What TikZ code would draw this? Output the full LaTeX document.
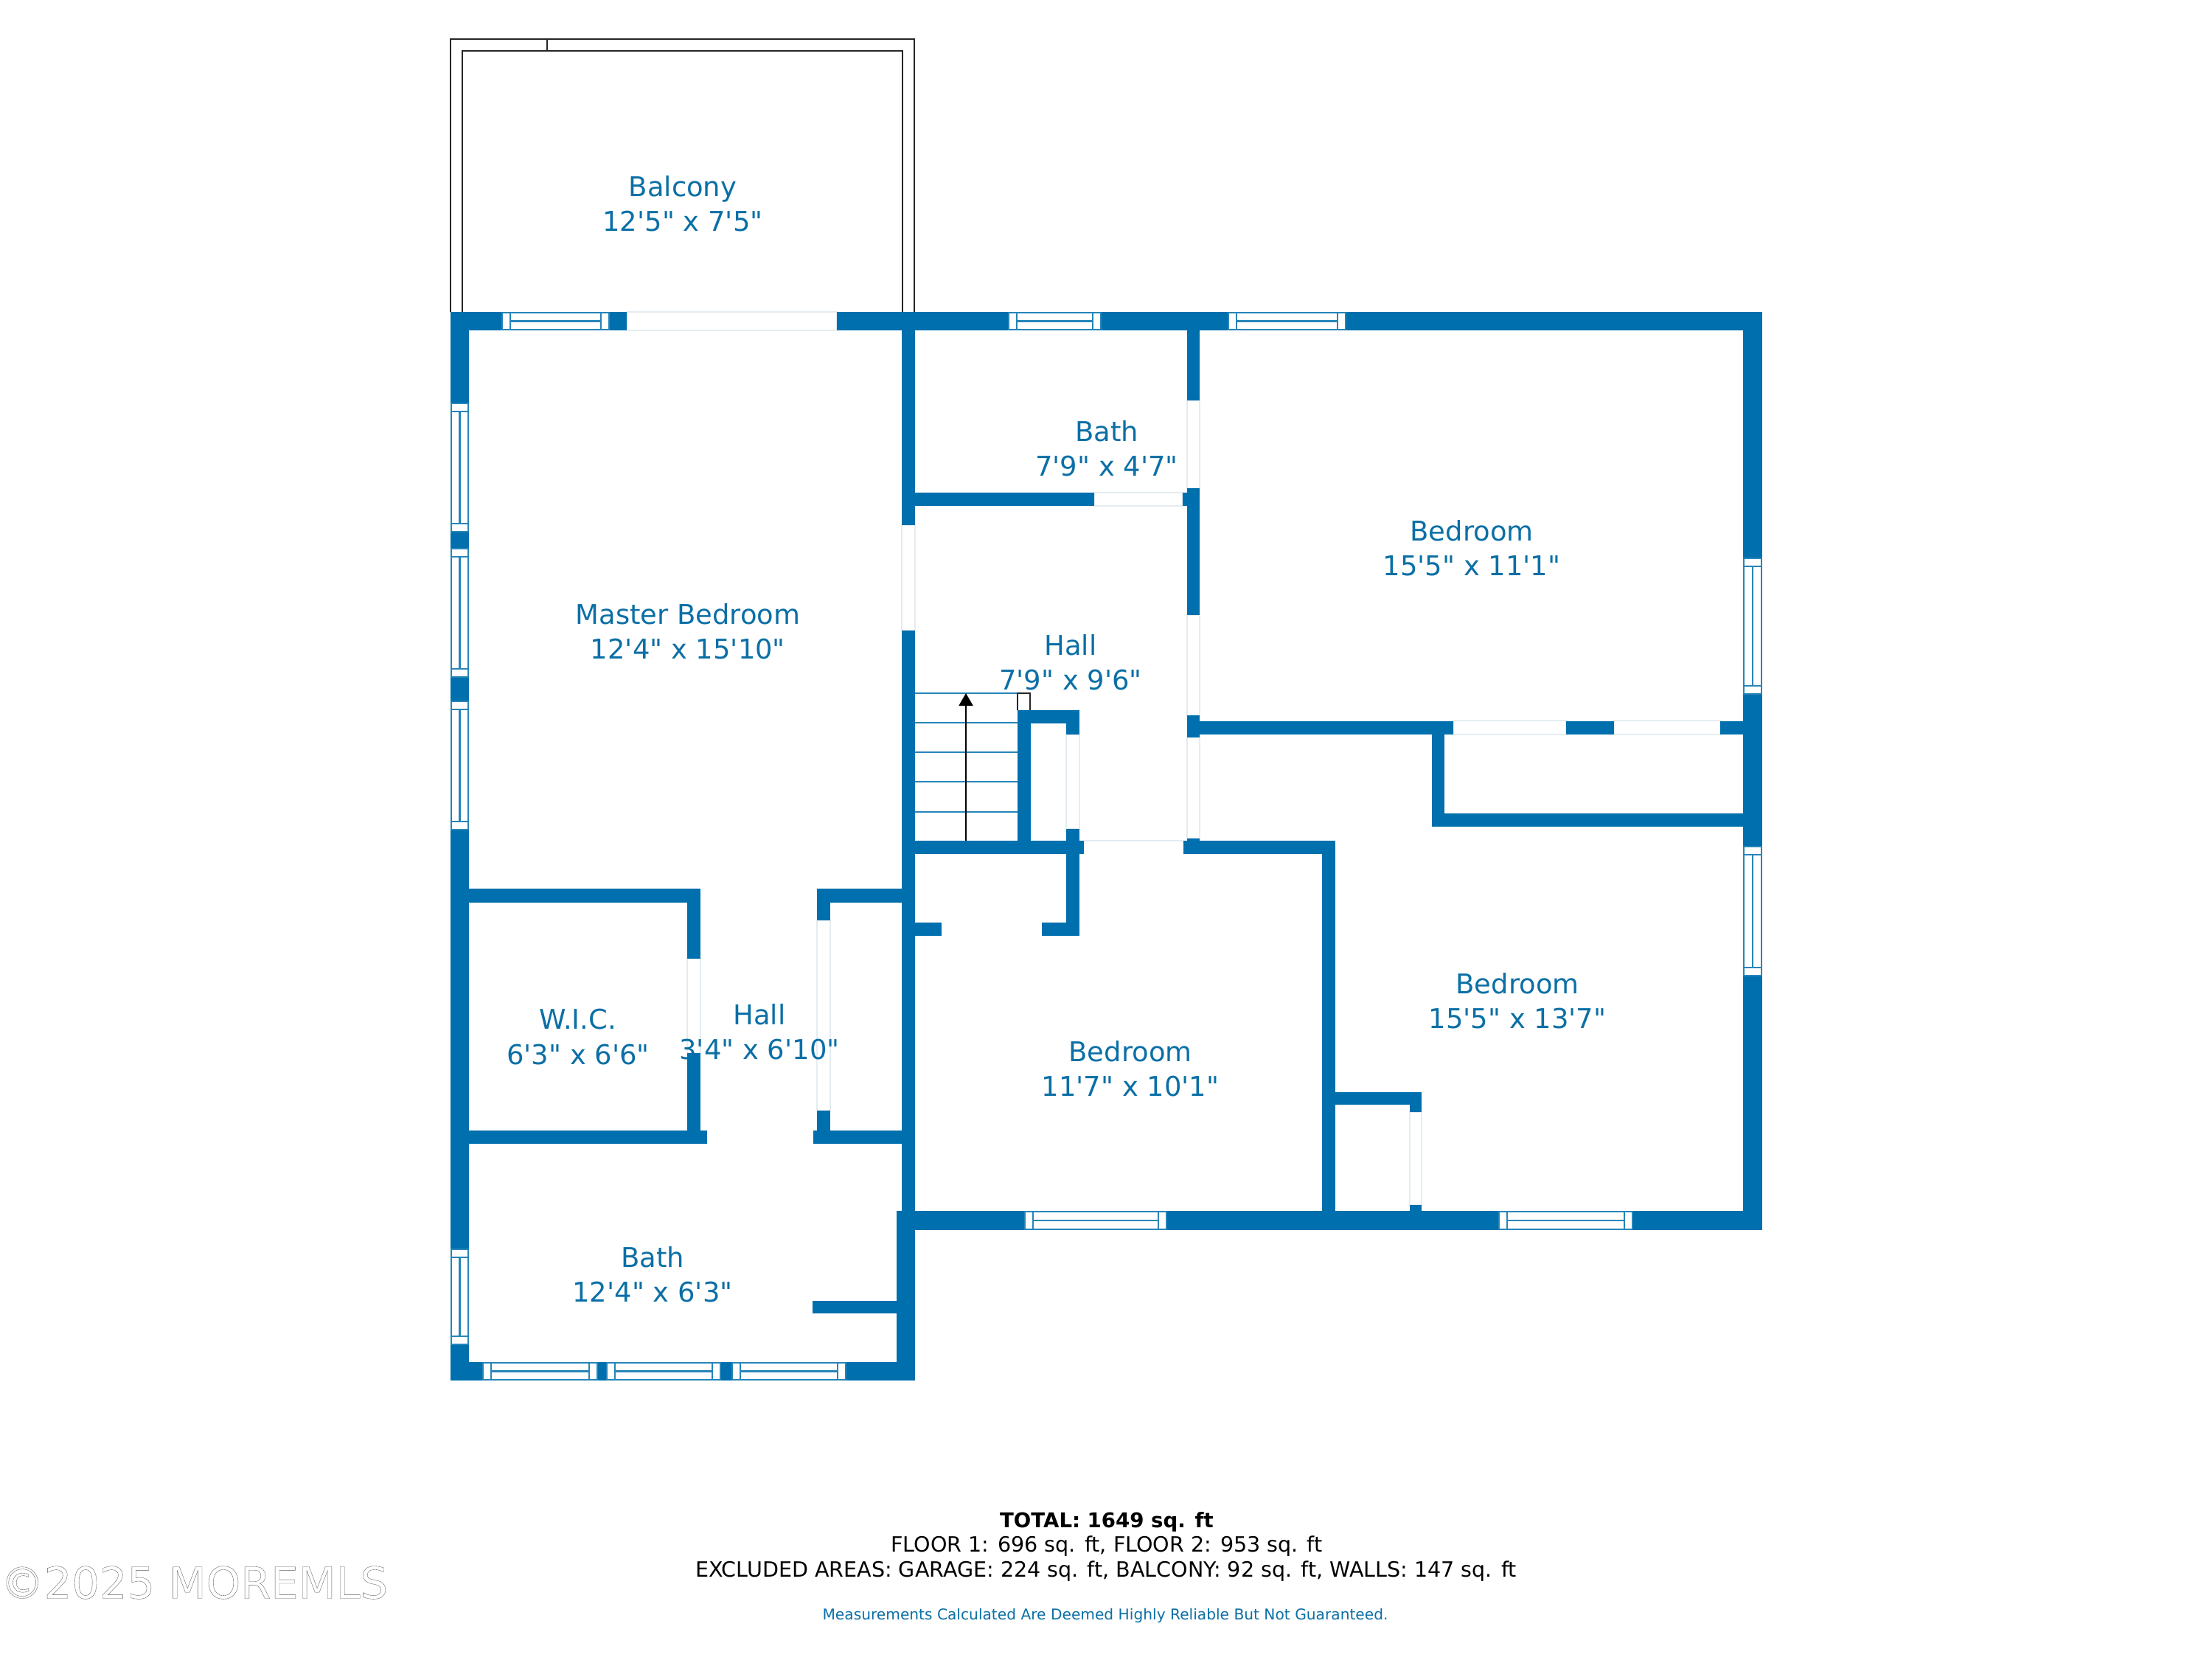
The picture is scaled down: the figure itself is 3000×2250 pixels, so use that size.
\documentclass[tikz,border=0pt]{standalone}
\usepackage{fontspec}
\usetikzlibrary{arrows.meta}
\newfontfamily\planfont{DejaVu Sans}
\definecolor{wallblue}{HTML}{006FAD}
\definecolor{labelblue}{HTML}{0B6FA6}
\definecolor{doorgray}{HTML}{E4ECF1}
\tikzset{
	wall/.style={fill=wallblue},
	winline/.style={draw=wallblue!85!white, line width=0.7pt},
	door/.style={draw=doorgray, line width=0.4pt, fill=white},
	railing/.style={draw=black!85, line width=0.8pt},
	stairline/.style={draw=wallblue!85!white, line width=0.7pt},
	room/.style={text=labelblue, align=center, font=\planfont\fontsize{10.5}{13.4}\selectfont},
	foot/.style={font=\planfont\fontsize{8.12}{10}\selectfont}
}
\begin{document}
\begin{tikzpicture}[x=0.01cm, y=-0.01cm, line join=miter, >={Triangle[width=0.19cm,length=0.17cm]}]
	\useasboundingbox (0,0) rectangle (3000,2250);
	% balcony railing
	\draw[railing] (611,423) -- (611,53) -- (1240,53) -- (1240,423);
	\draw[railing] (627,423) -- (627,69) -- (1224,69) -- (1224,423);
	\draw[railing] (742,53) -- (742,69);
	% door openings
	\foreach \xa/\ya/\xb/\yb in {850/423/1135/448, 1223/712/1241/855, 1484/668/1604/686,
		1610/543/1627/662, 1610/834/1627/970, 1610/1000/1627/1137, 1446/996/1464/1124,
		932/1300/950/1428, 1108/1248/1126/1506, 1912/1508/1928/1634,
		1971/977/2124/996, 2189/977/2333/996}
		\draw[door] (\xa,\ya) rectangle (\xb,\yb);
	\draw[door] (1470,1140) -- (1605,1140);
	% rooms
	\node[room] (balcony) at (926,276) {Balcony\\12'5" x 7'5"};
	\node[room] (master) at (933,856) {Master Bedroom\\12'4" x 15'10"};
	\node[room] (bathup) at (1501,608) {Bath\\7'9" x 4'7"};
	\node[room] (bedne) at (1996,743) {Bedroom\\15'5" x 11'1"};
	\node[room] (hallup) at (1452,898) {Hall\\7'9" x 9'6"};
	\node[room] (bedse) at (2058,1357) {Bedroom\\15'5" x 13'7"};
	\node[room] (beds) at (1533,1449) {Bedroom\\11'7" x 10'1"};
	\node[room] (wic) at (784,1406) {W.I.C.\\6'3" x 6'6"};
	\node[room] (halldown) at (1030,1399) {Hall\\3'4" x 6'10"};
	\node[room] (bathdown) at (885,1728) {Bath\\12'4" x 6'3"};
	% walls
	\foreach \xa/\ya/\xb/\yb in {611/423/850/448, 1135/423/2390/448,
		611/423/636/547, 611/721/636/744, 611/918/636/951, 611/1125/636/1694, 611/1823/636/1872,
		2364/423/2390/757, 2364/941/2390/1148, 2364/1323/2390/1668,
		1223/423/1241/712, 1223/855/1241/1645, 1216/1642/1241/1872,
		611/1847/1241/1872, 1216/1642/2390/1668,
		1610/423/1627/543, 1610/662/1627/834, 1610/970/1627/1000, 1610/1137/1627/1158,
		1223/668/1484/686, 1604/668/1627/686,
		1627/978/1971/996, 2124/978/2189/996, 2333/978/2364/996,
		1942/978/1959/1121, 1942/1103/2364/1121,
		1380/963/1398/1158, 1380/963/1464/981, 1446/963/1464/996,
		1241/1140/1470/1158, 1446/1124/1464/1269, 1413/1251/1464/1269, 1241/1251/1277/1269,
		1605/1140/1811/1158, 1793/1140/1811/1642,
		1793/1481/1928/1498, 1912/1481/1928/1508, 1912/1634/1928/1642,
		636/1205/950/1224, 932/1205/950/1300, 932/1428/950/1551, 636/1533/959/1551,
		1108/1205/1223/1224, 1108/1205/1126/1248, 1108/1506/1126/1551, 1103/1533/1223/1551,
		1102/1764/1216/1781}
		\fill[wall] (\xa,\ya) rectangle (\xb,\yb);
	% windows in horizontal walls
	\foreach \xa/\xb/\ya/\yb in {681/826/424/447, 1368/1493/424/447, 1666/1825/424/447,
		1390/1582/1643/1667, 2033/2214/1643/1667,
		655/810/1848/1871, 823/977/1848/1871, 993/1147/1848/1871}{
		\draw[winline, fill=white] (\xa,\ya) rectangle (\xb,\yb);
		\draw[winline] (\xa+11,\ya) -- (\xa+11,\yb);
		\draw[winline] (\xb-11,\ya) -- (\xb-11,\yb);
		\draw[winline] (\xa+11,{(\ya+\yb)/2}) -- (\xb-11,{(\ya+\yb)/2});
	}
	% windows in vertical walls
	\foreach \xa/\xb/\ya/\yb in {612/635/547/721, 612/635/744/918, 612/635/951/1125, 612/635/1694/1823,
		2365/2389/757/941, 2365/2389/1148/1323}{
		\draw[winline, fill=white] (\xa,\ya) rectangle (\xb,\yb);
		\draw[winline] (\xa,\ya+11) -- (\xb,\ya+11);
		\draw[winline] (\xa,\yb-11) -- (\xb,\yb-11);
		\draw[winline] ({(\xa+\xb)/2},\ya+11) -- ({(\xa+\xb)/2},\yb-11);
	}
	% stairs
	\foreach \y in {940,980,1020,1060,1101}
		\draw[stairline] (1241,\y) -- (1380,\y);
	\draw[railing] (1380,963) -- (1380,940) -- (1397,940) -- (1397,963);
	\coordinate (stairbot) at (1310,1140);
	\coordinate (stairtop) at (1310,940);
	\draw[->, black, line width=0.6pt] (stairbot) -- (stairtop);
	% footer
	\node[foot, font=\planfont\fontsize{7.85}{10}\selectfont] (total) at (1501,2064) {\bfseries TOTAL: 1649 sq. ft};
	\node[foot] (floors) at (1501,2097) {FLOOR 1: 696 sq. ft, FLOOR 2: 953 sq. ft};
	\node[foot] (excluded) at (1500,2131) {EXCLUDED AREAS: GARAGE: 224 sq. ft, BALCONY: 92 sq. ft, WALLS: 147 sq. ft};
	\node[foot, text=labelblue, font=\planfont\fontsize{5.74}{7}\selectfont] (note) at (1499,2191) {Measurements Calculated Are Deemed Highly Reliable But Not Guaranteed.};
	\node[anchor=west, inner sep=0pt, font=\planfont\fontsize{16.8}{20}\selectfont] (mark) at (0,2146)
		{\special{pdf:code q 1 Tr 0.1 w 0.35 G}©2025 MOREMLS\special{pdf:code Q}};
\end{tikzpicture}
\end{document}
